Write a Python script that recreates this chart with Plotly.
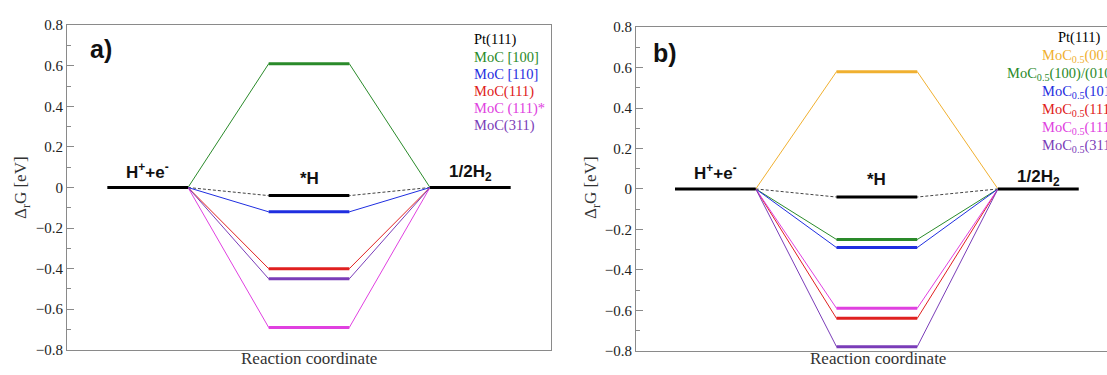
import plotly.graph_objects as go

# ---------------- data ----------------
left_labels = ["Pt(111)", "MoC [100]", "MoC [110]", "MoC(111)", "MoC (111)*", "MoC(311)"]
left_dG = [-0.04, 0.61, -0.12, -0.40, -0.69, -0.45]
left_colors = ["#000000", "#2a8a2a", "#1f2ee0", "#e02020", "#e040e0", "#7a3cb8"]

right_labels = ["Pt(111)", "MoC<sub>0.5</sub>(001)", "MoC<sub>0.5</sub>(100)/(010)",
                "MoC<sub>0.5</sub>(101)", "MoC<sub>0.5</sub>(111)", "MoC<sub>0.5</sub>(111)*",
                "MoC<sub>0.5</sub>(311)"]
right_dG = [-0.04, 0.58, -0.25, -0.29, -0.64, -0.59, -0.78]
right_colors = ["#000000", "#f0b030", "#2a8a2a", "#1f2ee0", "#e02020", "#e040e0", "#7a3cb8"]

step_labels = ["H<sup>+</sup>+e<sup>-</sup>", "*H", "1/2H<sub>2</sub>"]
step_x = [0, 2, 4]          # start of each level segment (each 1 unit long)
initial_dG = 0.0
final_dG = 0.0

W, H = 1107, 375
fig = go.Figure()

def add_panel(xa, ya, dGs, colors):
    xr = "x" if xa == 1 else "x2"
    yr = "y" if ya == 1 else "y2"
    # connectors
    for v, c in zip(dGs, colors):
        dash = "3px,2px" if c == "#000000" else "solid"
        lc = "#444444" if c == "#000000" else c
        fig.add_trace(go.Scatter(
            x=[step_x[0] + 1, step_x[1], step_x[1] + 1, step_x[2]],
            y=[initial_dG, v, v, final_dG], mode="lines",
            line=dict(color=lc, width=1, dash=dash),
            xaxis=xr, yaxis=yr, showlegend=False, hoverinfo="skip"))
    # initial and final levels
    for sx, v in [(step_x[0], initial_dG), (step_x[2], final_dG)]:
        fig.add_trace(go.Scatter(x=[sx, sx + 1], y=[v, v], mode="lines",
                                 line=dict(color="#000000", width=3),
                                 xaxis=xr, yaxis=yr, showlegend=False, hoverinfo="skip"))
    # intermediate levels (draw Pt last so it is on top)
    order = list(range(1, len(dGs))) + [0]
    for i in order:
        fig.add_trace(go.Scatter(x=[step_x[1], step_x[1] + 1], y=[dGs[i], dGs[i]], mode="lines",
                                 line=dict(color=colors[i], width=3),
                                 xaxis=xr, yaxis=yr, showlegend=False, hoverinfo="skip"))

add_panel(1, 1, left_dG, left_colors)
add_panel(2, 2, right_dG, right_colors)

serif = "Liberation Serif"
sans = "Liberation Sans"

yax = dict(range=[-0.8, 0.8], dtick=0.2, tickformat="~g", showgrid=False, zeroline=False,
           showline=True, linecolor="#8a8a8a", linewidth=1.2,
           ticks="inside", ticklen=7, tickcolor="#8a8a8a",
           minor=dict(dtick=0.1, ticks="inside", ticklen=4, tickcolor="#8a8a8a"),
           tickfont=dict(family=serif, size=15, color="#222"))
xax = dict(showgrid=False, zeroline=False, showticklabels=False, ticks="",
           showline=True, linecolor="#8a8a8a", linewidth=1.2, mirror=True)

fig.update_layout(
    width=W, height=H, margin=dict(l=0, r=0, t=0, b=0),
    paper_bgcolor="white", plot_bgcolor="white",
    font=dict(family=serif),
    xaxis=dict(xax, domain=[67 / W, 551 / W], range=[-0.5, 5.5], anchor="y"),
    yaxis=dict(yax, domain=[1 - 357 / H, 1 - 18 / H], anchor="x", mirror=True),
    xaxis2=dict(xax, domain=[636 / W, 1.0], range=[-0.483, 5.35], anchor="y2"),
    yaxis2=dict(yax, domain=[1 - 358 / H, 1 - 20 / H], anchor="x2", mirror=False),
)

ann = []
# step labels
for xr, yr, ys in [("x", "y", [0.083, 0.043, 0.072]), ("x2", "y2", [0.085, 0.049, 0.056])]:
    for lab, sx, yy in zip(step_labels, step_x, ys):
        ann.append(dict(x=sx + 0.5, y=yy, xref=xr, yref=yr, text="<b>" + lab + "</b>",
                        showarrow=False, font=dict(family=sans, size=17, color="#111"),
                        xanchor="center", yanchor="middle"))
# panel letters
ann.append(dict(x=88 / W, y=1 - 43 / H, xref="paper", yref="paper", text="<b>a)</b>",
                showarrow=False, font=dict(family=sans, size=25, color="#111"),
                xanchor="left", yanchor="middle"))
ann.append(dict(x=651 / W, y=1 - 47 / H, xref="paper", yref="paper", text="<b>b)</b>",
                showarrow=False, font=dict(family=sans, size=25, color="#111"),
                xanchor="left", yanchor="middle"))
# axis titles
for cx in [22, 592]:
    ann.append(dict(x=cx / W, y=1 - 188 / H, xref="paper", yref="paper",
                    text="Δ<sub>r</sub>G [eV]", textangle=-90, showarrow=False,
                    font=dict(family=serif, size=17, color="#333"),
                    xanchor="center", yanchor="middle"))
for cx in [309, 878]:
    ann.append(dict(x=cx / W, y=1 - 366 / H, xref="paper", yref="paper",
                    text="Reaction coordinate", showarrow=False,
                    font=dict(family=serif, size=17, color="#333"),
                    xanchor="center", yanchor="middle"))
# legend text, left panel
for i, (lab, c) in enumerate(zip(left_labels, left_colors)):
    ann.append(dict(x=472 / W, y=1 - (33 + 18 * i) / H, xref="paper", yref="paper",
                    text=lab, showarrow=False, font=dict(family=serif, size=14.5, color=c),
                    xanchor="left", yanchor="middle"))
# legend text, right panel (cut off at the right edge, as in the original)
rx = [1056, 1040, 1005, 1040, 1040, 1040, 1040]
for i, (lab, c) in enumerate(zip(right_labels, right_colors)):
    ann.append(dict(x=rx[i] / W, y=1 - (31 + 18.9 * i) / H, xref="paper", yref="paper",
                    text=lab, showarrow=False, font=dict(family=serif, size=14.5, color=c),
                    xanchor="left", yanchor="middle"))
fig.update_layout(annotations=ann)

fig.write_html("out.html")
